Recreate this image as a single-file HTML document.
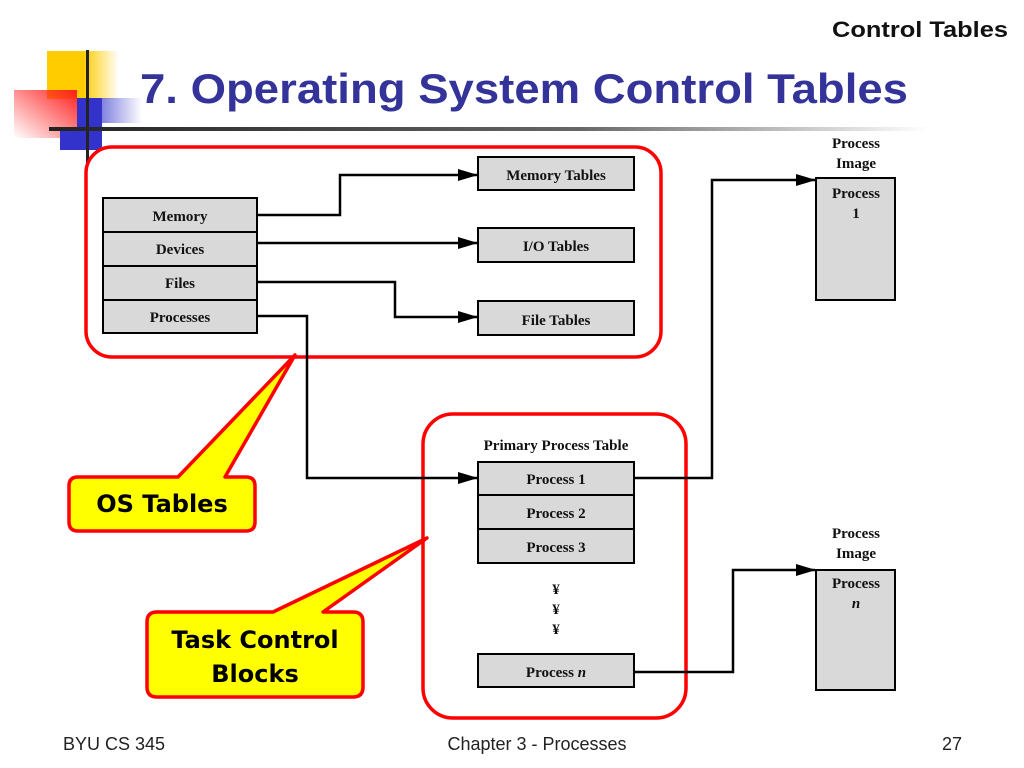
<!DOCTYPE html>
<html><head><meta charset="utf-8"><style>
body{margin:0;background:#fff;}
svg{display:block;}
.d{font-family:"Liberation Serif",serif;font-weight:bold;font-size:15px;fill:#111;}
</style></head><body>
<svg width="1024" height="768" viewBox="0 0 1024 768" xmlns="http://www.w3.org/2000/svg">
<defs>
<linearGradient id="yg" x1="0" x2="1"><stop offset="0.5" stop-color="#ffcc00"/><stop offset="1" stop-color="#ffcc00" stop-opacity="0"/></linearGradient>
<linearGradient id="bg" x1="0" x2="1"><stop offset="0" stop-color="#3333cc"/><stop offset="1" stop-color="#3333cc" stop-opacity="0"/></linearGradient>
<linearGradient id="rg" x1="1" y1="0" x2="0" y2="1"><stop offset="0" stop-color="#ff2020"/><stop offset="1" stop-color="#ff2020" stop-opacity="0"/></linearGradient>
<linearGradient id="lg" x1="0" x2="1"><stop offset="0" stop-color="#222"/><stop offset="0.6" stop-color="#666"/><stop offset="1" stop-color="#fff"/></linearGradient>
<marker id="ar" markerWidth="20" markerHeight="12" refX="19" refY="6" orient="auto" markerUnits="userSpaceOnUse"><path d="M0,0 L20,6 L0,12 Z" fill="#000"/></marker>
</defs>
<rect x="47" y="51" width="72" height="48" fill="url(#yg)"/>
<rect x="14" y="90" width="63" height="48" fill="url(#rg)"/>
<rect x="77" y="98" width="65" height="25" fill="url(#bg)"/>
<rect x="77" y="98" width="25" height="52" fill="#3333cc"/>
<rect x="60" y="130" width="42" height="20" fill="#3333cc"/>
<rect x="86" y="50" width="3" height="115" fill="#222"/>
<rect x="49" y="127" width="880" height="4" fill="url(#lg)"/>
<text x="140" y="103" textLength="768" lengthAdjust="spacingAndGlyphs" font-family="Liberation Sans,sans-serif" font-weight="bold" font-size="42" fill="#333399">7. Operating System Control Tables</text>
<text x="832" y="37" textLength="176" lengthAdjust="spacingAndGlyphs" font-family="Liberation Sans,sans-serif" font-weight="bold" font-size="22" fill="#111">Control Tables</text>

<rect x="86" y="147" width="575" height="210" rx="26" fill="none" stroke="#ff0000" stroke-width="3.5"/>
<rect x="423" y="414" width="263" height="304" rx="30" fill="none" stroke="#ff0000" stroke-width="3.5"/>

<g stroke="#000" stroke-width="2" fill="#d9d9d9">
<rect x="103" y="198" width="154" height="34"/><rect x="103" y="232" width="154" height="34"/>
<rect x="103" y="266" width="154" height="34"/><rect x="103" y="300" width="154" height="33"/>
<rect x="478" y="157" width="156" height="33"/><rect x="478" y="228" width="156" height="34"/><rect x="478" y="301" width="156" height="34"/>
<rect x="478" y="462" width="156" height="33"/><rect x="478" y="495" width="156" height="34"/><rect x="478" y="529" width="156" height="34"/>
<rect x="478" y="654" width="156" height="33"/>
<rect x="816" y="178" width="79" height="122"/><rect x="816" y="570" width="79" height="120"/>
</g>
<g stroke="#000" stroke-width="2.5" fill="none" marker-end="url(#ar)">
<polyline points="257,215 340,215 340,175 477,175"/>
<polyline points="257,243 477,243"/>
<polyline points="257,282 395,282 395,317 477,317"/>
<polyline points="257,316 307,316 307,478 477,478"/>
<polyline points="634,478 712,478 712,180 815,180"/>
<polyline points="634,672 733,672 733,570 815,570"/>
</g>
<g class="d" text-anchor="middle">
<text x="180" y="221" class="d">Memory</text><text x="180" y="254" class="d">Devices</text>
<text x="180" y="288" class="d">Files</text><text x="180" y="322" class="d">Processes</text>
<text x="556" y="180" class="d">Memory Tables</text><text x="556" y="251" class="d">I/O Tables</text><text x="556" y="325" class="d">File Tables</text>
<text x="556" y="450" class="d">Primary Process Table</text>
<text x="556" y="484" class="d">Process 1</text><text x="556" y="518" class="d">Process 2</text><text x="556" y="552" class="d">Process 3</text>
<text x="556" y="594" class="d">¥</text><text x="556" y="614" class="d">¥</text><text x="556" y="634" class="d">¥</text>
<text x="556" y="677" class="d">Process <tspan font-style="italic">n</tspan></text>
<text x="856" y="148" class="d">Process</text><text x="856" y="168" class="d">Image</text>
<text x="856" y="198" class="d">Process</text><text x="856" y="218" class="d">1</text>
<text x="856" y="538" class="d">Process</text><text x="856" y="558" class="d">Image</text>
<text x="856" y="588" class="d">Process</text><text x="856" y="608" class="d" font-style="italic">n</text>
</g>

<path d="M78,477 L178,477 L295,355 L225,477 L246,477 Q255,477 255,486 L255,522 Q255,531 246,531 L78,531 Q69,531 69,522 L69,486 Q69,477 78,477 Z" fill="#ffff00" stroke="#ff0000" stroke-width="3.5" stroke-linejoin="round"/>
<text x="162" y="512" text-anchor="middle" font-family="DejaVu Sans,sans-serif" font-weight="bold" font-size="24" fill="#000">OS Tables</text>
<path d="M157,612 L273,612 L427,538 L323,612 L353,612 Q363,612 363,622 L363,687 Q363,697 353,697 L157,697 Q147,697 147,687 L147,622 Q147,612 157,612 Z" fill="#ffff00" stroke="#ff0000" stroke-width="3.5" stroke-linejoin="round"/>
<text x="255" y="648" text-anchor="middle" font-family="DejaVu Sans,sans-serif" font-weight="bold" font-size="24" fill="#000">Task Control</text>
<text x="255" y="682" text-anchor="middle" font-family="DejaVu Sans,sans-serif" font-weight="bold" font-size="24" fill="#000">Blocks</text>

<g font-family="Liberation Sans,sans-serif" font-size="18" fill="#222">
<text x="63" y="750">BYU CS 345</text>
<text x="537" y="750" text-anchor="middle">Chapter 3 - Processes</text>
<text x="962" y="750" text-anchor="end">27</text>
</g>
</svg>
</body></html>
